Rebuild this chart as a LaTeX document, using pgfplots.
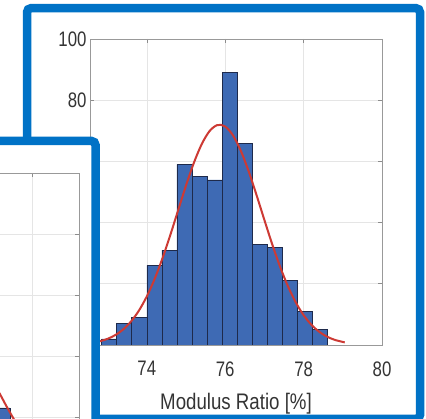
\documentclass[border=0pt]{standalone}
\usepackage{pgfplots}
\pgfplotsset{compat=1.18}
\usepackage{fontspec}
\newfontfamily\tickfont{Liberation Sans}[FakeStretch=0.8]
\newfontfamily\labfont{Liberation Sans}[FakeStretch=0.83]
\definecolor{framecol}{RGB}{0,114,198}
\definecolor{barfill}{RGB}{62,106,180}
\definecolor{baredge}{RGB}{30,42,75}
\definecolor{fitred}{RGB}{205,58,52}
\definecolor{txt}{RGB}{52,52,52}
\pgfplotsset{mstyle/.style={
  scale only axis, anchor=south west,
  ymin=0, ymax=100, ytick={0,20,...,100},
  xtick={74,76,78,80},
  grid=major, major grid style={line width=0.6pt, draw=black!10},
  axis line style={draw=black!40, line width=0.8pt},
  tick align=inside, major tick length=4pt,
  tick style={draw=black!45, line width=0.6pt},
  /pgf/number format/assume math mode=true,
  tick label style={font=\tickfont\fontsize{21}{24}\selectfont, text=txt},
}}
\begin{document}
\begin{tikzpicture}
\path[use as bounding box] (0pt,0pt) rectangle (426pt,419pt);
\clip (0pt,0pt) rectangle (426pt,419pt);
\fill[white] (0pt,0pt) rectangle (426pt,419pt);
\draw[framecol, line width=8.5pt, rounded corners=4pt, fill=white] (27pt,0pt) rectangle (420pt,410.8pt);
\begin{axis}[mstyle, at={(90pt,74pt)}, width=292pt, height=306pt,
  xmin=72.55, xmax=80,
  xticklabel style={yshift=-13pt},
  xlabel={Modulus Ratio [\%]},
  every axis x label/.style={at={(axis description cs:0.5,-0.21)}, anchor=base,
    font=\labfont\fontsize{22.5}{26}\selectfont, text=txt}]
\addplot[ybar interval, fill=barfill, draw=baredge, line width=0.5pt] coordinates {
(72.846,2) (73.23,7) (73.614,9) (73.999,26) (74.383,31) (74.767,59) (75.152,55)
(75.536,54) (75.920,89) (76.304,66) (76.689,33) (77.073,32) (77.457,21)
(77.842,11) (78.226,5) (78.61,0)};
\addplot[fitred, line width=2pt, smooth] coordinates {
(72.6,0.69) (72.8,1.21) (73.0,2.02) (73.2,3.28) (73.4,5.12) (73.6,7.74)
(73.8,11.28) (74.0,15.89) (74.2,21.61) (74.4,28.38) (74.6,35.99) (74.8,44.08)
(75.0,52.13) (75.2,59.53) (75.4,65.64) (75.6,69.90) (75.8,71.89) (76.0,71.39)
(76.2,68.46) (76.4,63.39) (76.6,56.68) (76.8,48.95) (77.0,40.82) (77.2,32.87)
(77.4,25.56) (77.6,19.19) (77.8,13.92) (78.0,9.74) (78.2,6.59) (78.4,4.30)
(78.6,2.71) (78.8,1.65) (79.05,0.85)};
\end{axis}
\draw[framecol, line width=8.5pt, rounded corners=4pt, fill=white] (-40pt,-40pt) rectangle (95.5pt,278pt);
\begin{axis}[mstyle, at={(-214pt,-59pt)}, width=293pt, height=305pt,
  xmin=73.75, xmax=81.2, xticklabels={}, yticklabels={}]
\addplot[ybar interval, fill=barfill, draw=baredge, line width=0.5pt] coordinates {
(78.66,31) (79.05,23) (79.44,0)};
\addplot[fitred, line width=2pt, smooth] coordinates {
(78.6,40) (78.9,34) (79.19,27.5) (79.4,22.5) (79.7,16) (80.0,11) (80.4,6)};
\end{axis}
\end{tikzpicture}
\end{document}
